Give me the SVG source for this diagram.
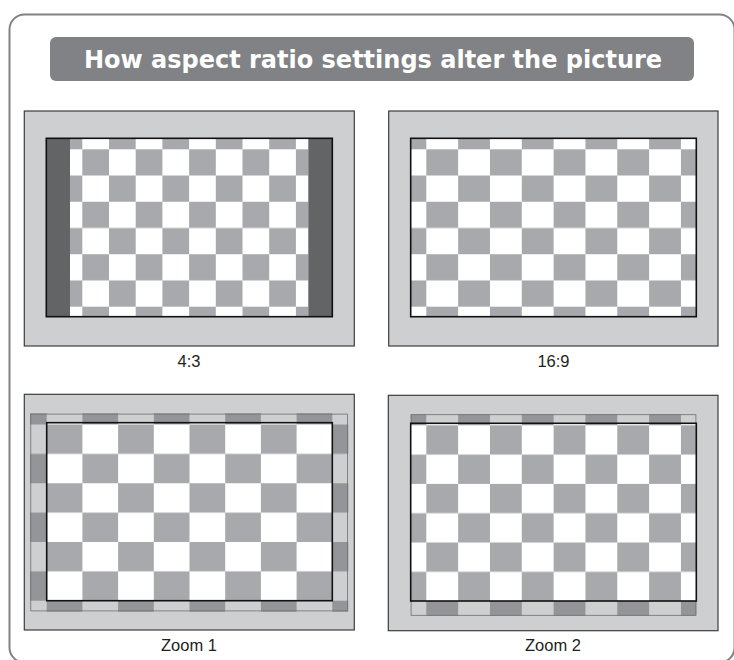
<svg xmlns="http://www.w3.org/2000/svg" width="734" height="660" viewBox="0 0 734 660">
  <style>
    .frame { fill: #cdcfd1; stroke: #3c3c3e; stroke-width: 1.2; }
    .screen { fill: none; stroke: #111; stroke-width: 1.6; }
    .white { fill: #ffffff; }
    .bar { fill: #636466; }
    .dimbg { fill: #cdcfd1; }
    .outline { fill: none; stroke: #6d6e71; stroke-width: 0.8; }
    .label { font-family: "Liberation Sans", Arial, sans-serif; font-size: 16.5px; fill: #231f20; text-anchor: middle; }
    .title { font-family: "DejaVu Sans", Verdana, sans-serif; font-weight: bold; font-size: 24px; fill: #ffffff; text-anchor: middle; }
  </style>
  <defs>
    <pattern id="chk1" patternUnits="userSpaceOnUse" x="82.3" y="149.3" width="53.4" height="52.46">
      <rect x="0" y="0" width="26.7" height="26.23" fill="#a7a9ac"/>
      <rect x="26.7" y="26.23" width="26.7" height="26.23" fill="#a7a9ac"/>
    </pattern>
    <pattern id="chk2" patternUnits="userSpaceOnUse" x="426.3" y="149.3" width="63.66" height="52.46">
      <rect x="0" y="0" width="31.83" height="26.23" fill="#a7a9ac"/>
      <rect x="31.83" y="26.23" width="31.83" height="26.23" fill="#a7a9ac"/>
    </pattern>
    <pattern id="chk3" patternUnits="userSpaceOnUse" x="46.7" y="424.5" width="71.4" height="58.74">
      <rect x="0" y="0" width="35.7" height="29.37" fill="#a7a9ac"/>
      <rect x="35.7" y="29.37" width="35.7" height="29.37" fill="#a7a9ac"/>
    </pattern>
    <pattern id="chk3dim" patternUnits="userSpaceOnUse" x="46.7" y="424.5" width="71.4" height="58.74">
      <rect x="0" y="0" width="35.7" height="29.37" fill="#939598"/>
      <rect x="35.7" y="29.37" width="35.7" height="29.37" fill="#939598"/>
    </pattern>
    <pattern id="chk4" patternUnits="userSpaceOnUse" x="426.3" y="425.3" width="63.66" height="58.6">
      <rect x="0" y="0" width="31.83" height="29.3" fill="#a7a9ac"/>
      <rect x="31.83" y="29.3" width="31.83" height="29.3" fill="#a7a9ac"/>
    </pattern>
    <pattern id="chk4dim" patternUnits="userSpaceOnUse" x="426.3" y="425.3" width="63.66" height="58.6">
      <rect x="0" y="0" width="31.83" height="29.3" fill="#939598"/>
      <rect x="31.83" y="29.3" width="31.83" height="29.3" fill="#939598"/>
    </pattern>
  </defs>

  <rect id="background" x="0" y="0" width="734" height="660" fill="#ffffff"/>
  <rect id="outer-frame" x="9.5" y="14.5" width="725" height="648" rx="15" ry="15" fill="none" stroke="#808285" stroke-width="2"/>

  <g id="title">
    <rect x="50" y="37" width="644" height="44" rx="6" ry="6" fill="#808285"/>
    <text class="title" x="373" y="67.5">How aspect ratio settings alter the picture</text>
  </g>

  <g id="panel-4-3">
    <rect class="frame" x="24.3" y="111" width="330" height="235"/>
    <rect class="white" x="46.3" y="138.3" width="286" height="178.4"/>
    <rect x="70" y="138.3" width="238.3" height="178.4" fill="url(#chk1)"/>
    <rect class="bar" x="46.3" y="138.3" width="23.7" height="178.4"/>
    <rect class="bar" x="308.3" y="138.3" width="24" height="178.4"/>
    <rect class="screen" x="46.3" y="138.3" width="286" height="178.4"/>
    <text class="label" x="189" y="367">4:3</text>
  </g>

  <g id="panel-16-9">
    <rect class="frame" x="388.7" y="111" width="329.3" height="235"/>
    <rect class="white" x="410.7" y="138.3" width="285.6" height="178.4"/>
    <rect x="410.7" y="138.3" width="285.6" height="178.4" fill="url(#chk2)"/>
    <rect class="screen" x="410.7" y="138.3" width="285.6" height="178.4"/>
    <text class="label" x="553.5" y="367">16:9</text>
  </g>

  <g id="panel-zoom-1">
    <rect class="frame" x="24.3" y="394.3" width="330" height="235.7"/>
    <rect class="dimbg" x="30" y="413.3" width="318.3" height="198.4"/>
    <rect x="30" y="413.3" width="318.3" height="198.4" fill="url(#chk3dim)"/>
    <rect class="outline" x="30.8" y="414.1" width="316.8" height="196.8"/>
    <rect class="white" x="46.7" y="422.7" width="285.6" height="178"/>
    <rect x="46.7" y="422.7" width="285.6" height="178" fill="url(#chk3)"/>
    <rect class="screen" x="46.7" y="422.7" width="285.6" height="178"/>
    <text class="label" x="189" y="651">Zoom 1</text>
  </g>

  <g id="panel-zoom-2">
    <rect class="frame" x="388.3" y="395.3" width="329.7" height="235.4"/>
    <rect class="dimbg" x="410.7" y="414.3" width="285.6" height="201.4"/>
    <rect x="410.7" y="414.3" width="285.6" height="201.4" fill="url(#chk4dim)"/>
    <rect class="outline" x="411.1" y="414.7" width="284.8" height="200.6"/>
    <rect class="white" x="410.7" y="423.3" width="285.6" height="177.7"/>
    <rect x="410.7" y="423.3" width="285.6" height="177.7" fill="url(#chk4)"/>
    <rect class="screen" x="410.7" y="423.3" width="285.6" height="177.7"/>
    <text class="label" x="553" y="651">Zoom 2</text>
  </g>
</svg>
